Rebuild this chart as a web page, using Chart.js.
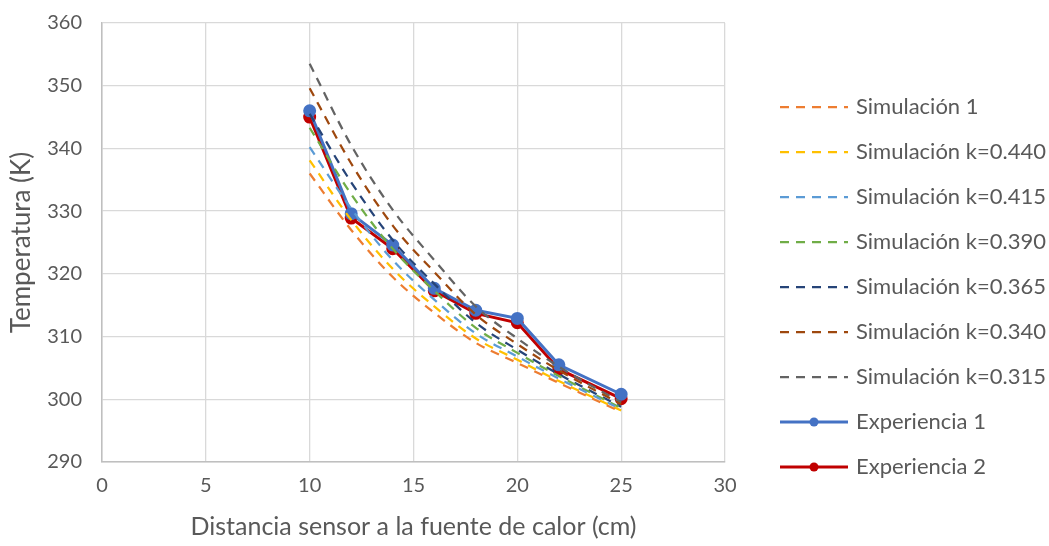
<!DOCTYPE html>
<html>
<head>
<meta charset="utf-8">
<script src="https://cdn.jsdelivr.net/npm/chart.js@4/dist/chart.umd.min.js"></script>
<style>
  html, body { margin: 0; padding: 0; background: #fff; }
  #wrap { width: 1049px; height: 546px; }
</style>
</head>
<body>
<div id="wrap"><canvas id="temp-chart" width="1049" height="546"></canvas></div>
<script>
const distances = [10, 12, 14, 16, 18, 20, 22, 25];

const sim1 = [336.0, 327.0, 319.5, 313.8, 309.0, 305.8, 302.6, 298.0];
const simK440 = [338.1, 328.6, 320.8, 314.8, 309.7, 306.3, 302.9, 298.2];
const simK415 = [340.2, 330.4, 322.2, 315.9, 310.5, 306.8, 303.3, 298.4];
const simK390 = [343.3, 332.7, 324.0, 317.3, 311.4, 307.4, 303.7, 298.6];
const simK365 = [345.5, 334.6, 325.4, 318.4, 312.2, 307.9, 304.0, 298.8];
const simK340 = [349.6, 337.6, 327.7, 320.3, 313.5, 308.8, 304.6, 299.2];
const simK315 = [353.5, 340.5, 330.2, 322.2, 314.8, 309.7, 305.2, 299.5];

const exp1 = [346.0, 329.6, 324.6, 317.7, 314.2, 312.9, 305.5, 300.8];
const exp2 = [345.0, 328.9, 324.0, 317.3, 313.7, 312.2, 304.8, 300.1];

const xTicks = [0, 5, 10, 15, 20, 25, 30];
const yTicks = [290, 300, 310, 320, 330, 340, 350, 360];

const FONT = 'Lato, "Open Sans", sans-serif';
const TEXT = '#595959';

function pts(ys) {
  return ys.map((y, i) => ({ x: distances[i], y: y }));
}

function simSet(label, ys, color) {
  return {
    label: label,
    data: pts(ys),
    borderColor: color,
    backgroundColor: color,
    borderWidth: 2.25,
    borderDash: [9, 7],
    pointRadius: 0,
    cubicInterpolationMode: 'monotone',
    fill: false,
  };
}

function expSet(label, ys, color) {
  return {
    label: label,
    data: pts(ys),
    borderColor: color,
    backgroundColor: color,
    borderWidth: 3,
    pointRadius: 5,
    pointBackgroundColor: color,
    pointBorderColor: color,
    tension: 0,
    fill: false,
  };
}

// legend drawn by hand so dashes and markers look like the original
const sideLegend = {
  id: 'sideLegend',
  afterDraw(chart) {
    const ctx = chart.ctx;
    const x0 = 780, x1 = 848, top = 107, step = 45;
    ctx.save();
    chart.data.datasets.forEach((ds, i) => {
      const y = top + i * step;
      ctx.strokeStyle = ds.borderColor;
      ctx.lineWidth = ds.borderWidth;
      ctx.setLineDash(ds.borderDash || []);
      ctx.beginPath();
      ctx.moveTo(x0, y);
      ctx.lineTo(x1, y);
      ctx.stroke();
      ctx.setLineDash([]);
      if (ds.pointRadius > 0) {
        ctx.fillStyle = ds.borderColor;
        ctx.beginPath();
        ctx.arc((x0 + x1) / 2, y, 4.5, 0, Math.PI * 2);
        ctx.fill();
      }
      ctx.fillStyle = TEXT;
      ctx.font = '22px ' + FONT;
      ctx.textBaseline = 'middle';
      ctx.textAlign = 'left';
      ctx.fillText(ds.label, 856, y);
    });
    ctx.restore();
  },
};

const chartCanvas = document.getElementById('temp-chart');
new Chart(chartCanvas, {
  type: 'line',
  data: {
    datasets: [
      simSet('Simulación 1', sim1, '#ED7D31'),
      simSet('Simulación k=0.440', simK440, '#FFC000'),
      simSet('Simulación k=0.415', simK415, '#5B9BD5'),
      simSet('Simulación k=0.390', simK390, '#70AD47'),
      simSet('Simulación k=0.365', simK365, '#264478'),
      simSet('Simulación k=0.340', simK340, '#9E480E'),
      simSet('Simulación k=0.315', simK315, '#636363'),
      expSet('Experiencia 1', exp1, '#4472C4'),
      expSet('Experiencia 2', exp2, '#C00000'),
    ],
  },
  options: {
    responsive: false,
    animation: false,
    layout: {
      padding: { left: 0, right: 324, top: 23, bottom: 0 },
    },
    plugins: {
      legend: { display: false },
      tooltip: { enabled: false },
    },
    scales: {
      x: {
        type: 'linear',
        min: 0,
        max: 30,
        afterBuildTicks: (scale) => {
          scale.ticks = xTicks.map((v) => ({ value: v }));
        },
        afterFit: (scale) => {
          scale.height = 84;
        },
        grid: {
          color: '#d9d9d9',
          lineWidth: 1.3,
          drawTicks: false,
        },
        border: { color: '#bfbfbf', width: 1.5 },
        ticks: {
          padding: 12,
          color: TEXT,
          font: { family: FONT, size: 20 },
        },
        title: {
          display: true,
          text: 'Distancia sensor a la fuente de calor (cm)',
          color: TEXT,
          font: { family: FONT, size: 25 },
          padding: { top: 2 },
        },
      },
      y: {
        min: 290,
        max: 360,
        afterBuildTicks: (scale) => {
          scale.ticks = yTicks.map((v) => ({ value: v }));
        },
        afterFit: (scale) => {
          scale.width = 102;
          scale.paddingTop = 0;
          scale.paddingBottom = 0;
        },
        grid: {
          color: '#d9d9d9',
          lineWidth: 1.3,
          drawTicks: false,
        },
        border: { color: '#bfbfbf', width: 1.5 },
        ticks: {
          padding: 20,
          color: TEXT,
          font: { family: FONT, size: 20 },
        },
        title: {
          display: true,
          text: 'Temperatura (K)',
          color: TEXT,
          font: { family: FONT, size: 26 },
          padding: { top: 6, bottom: 0 },
        },
      },
    },
  },
  plugins: [sideLegend],
});
</script>
</body>
</html>
